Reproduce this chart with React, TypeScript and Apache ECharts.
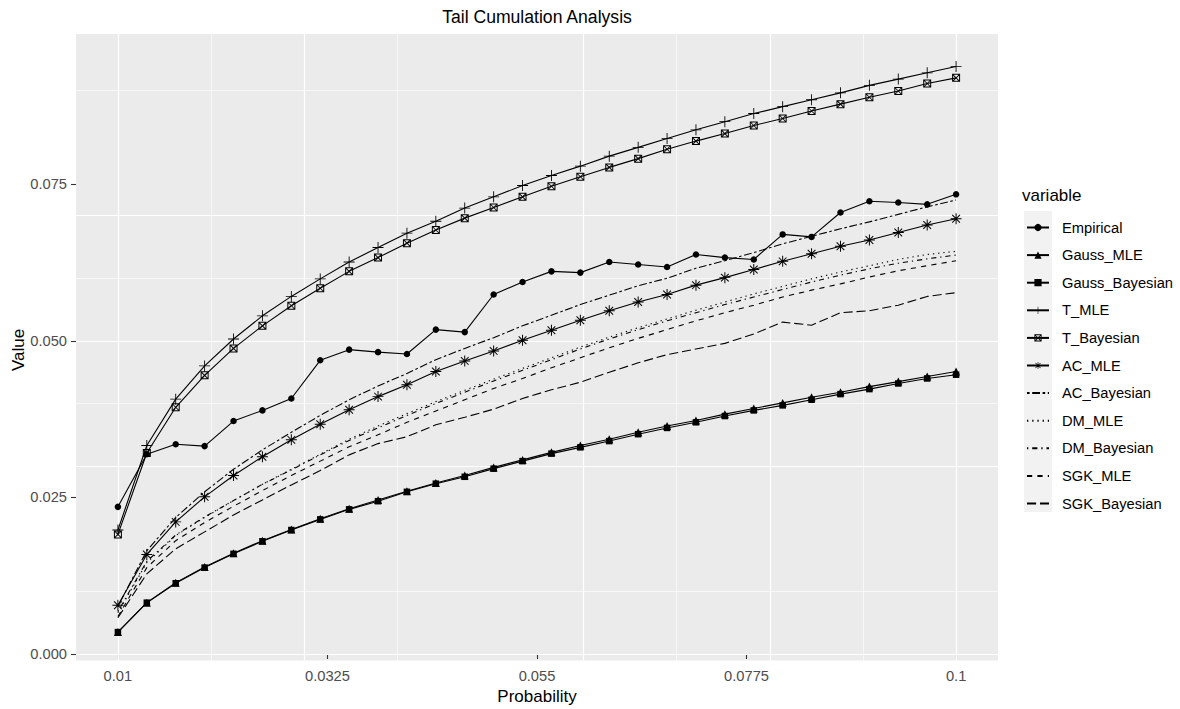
import React, { useEffect, useRef } from "react";
import * as echarts from "echarts";

const probability = [
  0.01, 0.013103, 0.016207, 0.01931, 0.022414, 0.025517, 0.028621, 0.031724, 0.034828, 0.037931,
  0.041034, 0.044138, 0.047241, 0.050345, 0.053448, 0.056552, 0.059655, 0.062759, 0.065862, 0.068966,
  0.072069, 0.075172, 0.078276, 0.081379, 0.084483, 0.087586, 0.09069, 0.093793, 0.096897, 0.1,
];

const empirical = [
  0.0235, 0.0319, 0.0335, 0.0332, 0.0372, 0.0389, 0.0408, 0.0469, 0.0486, 0.0482,
  0.0479, 0.0518, 0.0514, 0.0574, 0.0594, 0.0611, 0.0609, 0.0626, 0.0622, 0.0618,
  0.0638, 0.0633, 0.063, 0.067, 0.0666, 0.0705, 0.0723, 0.0721, 0.0718, 0.0734,
];
const gaussMLE = [
  0.0035, 0.0082, 0.0114, 0.0139, 0.0161, 0.0181, 0.0199, 0.0216, 0.0232, 0.0246,
  0.026, 0.0273, 0.0285, 0.0298, 0.031, 0.0322, 0.0333, 0.0343, 0.0354, 0.0364,
  0.0373, 0.0383, 0.0392, 0.0401, 0.041, 0.0418, 0.0427, 0.0435, 0.0443, 0.0451,
];
const gaussBayesian = [
  0.0035, 0.0082, 0.0113, 0.0138, 0.016, 0.018, 0.0198, 0.0215, 0.0231, 0.0244,
  0.0259, 0.0272, 0.0283, 0.0296, 0.0308, 0.032, 0.033, 0.034, 0.0351, 0.0361,
  0.037, 0.038, 0.0389, 0.0397, 0.0406, 0.0415, 0.0423, 0.0432, 0.044, 0.0446,
];
const tMLE = [
  0.0198, 0.0333, 0.0407, 0.046, 0.0503, 0.054, 0.0571, 0.0599, 0.0626, 0.0649,
  0.0672, 0.0691, 0.0712, 0.073, 0.0748, 0.0764, 0.0779, 0.0795, 0.0809, 0.0823,
  0.0837, 0.085, 0.0863, 0.0874, 0.0885, 0.0896, 0.0908, 0.0918, 0.0928, 0.0938,
];
const tBayesian = [
  0.0191, 0.0321, 0.0394, 0.0445, 0.0488, 0.0524, 0.0556, 0.0584, 0.0611, 0.0633,
  0.0656, 0.0677, 0.0696, 0.0713, 0.073, 0.0747, 0.0762, 0.0777, 0.0791, 0.0806,
  0.0819, 0.0831, 0.0844, 0.0855, 0.0867, 0.0878, 0.0889, 0.0899, 0.0911, 0.092,
];
const acMLE = [
  0.0078, 0.0159, 0.0211, 0.0251, 0.0285, 0.0315, 0.0342, 0.0367, 0.039, 0.0411,
  0.043, 0.0451, 0.0468, 0.0484, 0.0501, 0.0517, 0.0533, 0.0548, 0.0562, 0.0574,
  0.0589, 0.0601, 0.0614, 0.0627, 0.0639, 0.0651, 0.0661, 0.0673, 0.0685, 0.0695,
];
const acBayesian = [
  0.0076, 0.0165, 0.0218, 0.0259, 0.0295, 0.0326, 0.0354, 0.0381, 0.0406, 0.0428,
  0.0448, 0.047, 0.0488, 0.0505, 0.0524, 0.0541, 0.0558, 0.0573, 0.0588, 0.06,
  0.0616, 0.0628, 0.0641, 0.0655, 0.0667, 0.0679, 0.069, 0.0702, 0.0714, 0.0725,
];
const dmMLE = [
  0.0066, 0.0146, 0.0189, 0.0218, 0.0245, 0.0271, 0.0295, 0.0319, 0.0343, 0.0364,
  0.0384, 0.0403, 0.0421, 0.0439, 0.0456, 0.0473, 0.049, 0.0506, 0.0521, 0.0535,
  0.0549, 0.0562, 0.0575, 0.0587, 0.0599, 0.061, 0.062, 0.063, 0.0638, 0.0643,
];
const dmBayesian = [
  0.0068, 0.0148, 0.019, 0.0219, 0.0245, 0.0271, 0.0294, 0.0318, 0.0341, 0.0361,
  0.0381, 0.04, 0.0418, 0.0436, 0.0453, 0.047, 0.0487, 0.0503, 0.0518, 0.0532,
  0.0545, 0.0558, 0.057, 0.0582, 0.0594, 0.0605, 0.0615, 0.0624, 0.0631, 0.0637,
];
const sgkMLE = [
  0.006, 0.0138, 0.0181, 0.021, 0.0236, 0.0261, 0.0285, 0.0308, 0.0331, 0.035,
  0.037, 0.0388, 0.0406, 0.0424, 0.044, 0.0457, 0.0473, 0.0489, 0.0504, 0.0518,
  0.0532, 0.0545, 0.0557, 0.057, 0.0581, 0.0591, 0.0602, 0.0612, 0.062, 0.0628,
];
const sgkBayesian = [
  0.0058, 0.0128, 0.0168, 0.0195, 0.0222, 0.0246, 0.027, 0.0293, 0.0318, 0.0336,
  0.0347, 0.0366, 0.0378, 0.0391, 0.0408, 0.0422, 0.0434, 0.045, 0.0465, 0.0478,
  0.0487, 0.0496, 0.0511, 0.053, 0.0525, 0.0545, 0.0548, 0.0557, 0.0571, 0.0577,
];

const seriesNames = [
  "Empirical", "Gauss_MLE", "Gauss_Bayesian", "T_MLE", "T_Bayesian", "AC_MLE",
  "AC_Bayesian", "DM_MLE", "DM_Bayesian", "SGK_MLE", "SGK_Bayesian",
];

const xTickValues = [0.01, 0.0325, 0.055, 0.0775, 0.1];
const xTickLabels = ["0.01", "0.0325", "0.055", "0.0775", "0.1"];
const xMinorValues = [0.02125, 0.04375, 0.06625, 0.08875];
const yTickValues = [0, 0.025, 0.05, 0.075];
const yTickLabels = ["0.000", "0.025", "0.050", "0.075"];
const yMinorValues = [0.0125, 0.0375, 0.0625, 0.0875];

const FONT = "'Liberation Sans', Arial, Helvetica, sans-serif";

const PLUS =
  "path://M-0.8,-10 L0.8,-10 L0.8,-0.8 L10,-0.8 L10,0.8 L0.8,0.8 L0.8,10 L-0.8,10 L-0.8,0.8 L-10,0.8 L-10,-0.8 L-0.8,-0.8 Z";
const SQUARE_CROSS =
  "path://M-10,-10 L10,-10 L10,10 L-10,10 Z M-7.5,-7.5 L-7.5,7.5 L7.5,7.5 L7.5,-7.5 Z " +
  "M-6.72,-8.28 L8.28,6.72 L6.72,8.28 L-8.28,-6.72 Z M8.28,-6.72 L-6.72,8.28 L-8.28,6.72 L6.72,-8.28 Z";
const ASTERISK =
  "path://M-0.9,-10 L0.9,-10 L0.9,-0.9 L10,-0.9 L10,0.9 L0.9,0.9 L0.9,10 L-0.9,10 L-0.9,0.9 L-10,0.9 L-10,-0.9 L-0.9,-0.9 Z " +
  "M-6.36,-7.64 L7.64,6.36 L6.36,7.64 L-7.64,-6.36 Z M7.64,-6.36 L-6.36,7.64 L-7.64,6.36 L6.36,-7.64 Z";

function pickLabel(v: number, values: number[], labels: string[]) {
  let best = 0;
  for (let i = 1; i < values.length; i++) {
    if (Math.abs(values[i] - v) < Math.abs(values[best] - v)) best = i;
  }
  return labels[best];
}

export default function App() {
  const ref = useRef<HTMLDivElement>(null);

  useEffect(() => {
    if (!ref.current) return;
    const chart = echarts.init(ref.current, undefined, { renderer: "svg" });

    const valuesList = [
      empirical, gaussMLE, gaussBayesian, tMLE, tBayesian, acMLE,
      acBayesian, dmMLE, dmBayesian, sgkMLE, sgkBayesian,
    ];
    const symbols: any[] = ["circle", "triangle", "rect", PLUS, SQUARE_CROSS, ASTERISK, "none", "none", "none", "none", "none"];
    const symbolSizes = [6.5, 8, 6.5, 11, 8, 11, 0, 0, 0, 0, 0];
    const dashes: any[] = [
      "solid", "solid", "solid", "solid", "solid", "solid",
      [2.6, 2.6, 7.8, 2.6],
      [1.3, 3.9],
      [1.3, 3.9, 5.2, 3.9],
      [5.2, 5.2],
      [9.1, 3.9],
    ];

    const dataSeries = seriesNames.map((name, k) => {
      const vals = valuesList[k];
      const hasSym = symbols[k] !== "none";
      return {
        name,
        type: "line",
        data: probability.map((p, i) => [p, vals[i]]),
        symbol: symbols[k],
        symbolSize: symbolSizes[k],
        showSymbol: hasSym,
        lineStyle: { color: "#000000", width: 1.1, type: dashes[k], cap: "butt" },
        itemStyle: { color: "#000000", borderWidth: 0 },
        z: 3,
        silent: true,
        animation: false,
        emphasis: { disabled: true },
      };
    });

    const legendData = seriesNames.map((name, k) =>
      symbols[k] === "none"
        ? { name, itemStyle: { opacity: 0, color: "rgba(0,0,0,0)" } }
        : { name }
    );

    const gridLines: any[] = [
      ...xTickValues.map((v) => ({ xAxis: v, lineStyle: { width: 1.2 } })),
      ...xMinorValues.map((v) => ({ xAxis: v, lineStyle: { width: 0.6 } })),
      ...yTickValues.map((v) => ({ yAxis: v, lineStyle: { width: 1.2 } })),
      ...yMinorValues.map((v) => ({ yAxis: v, lineStyle: { width: 0.6 } })),
    ];

    const gridSeries = {
      name: "__grid",
      type: "line",
      data: [[0.01, 0]],
      symbol: "none",
      showSymbol: false,
      lineStyle: { opacity: 0 },
      silent: true,
      z: 1,
      animation: false,
      markLine: {
        silent: true,
        z: 1,
        symbol: ["none", "none"],
        label: { show: false },
        emphasis: { disabled: true },
        animation: false,
        lineStyle: { color: "#ffffff", type: "solid", width: 1.2 },
        data: gridLines,
      },
    };

    chart.setOption({
      animation: false,
      backgroundColor: "#ffffff",
      textStyle: { fontFamily: FONT },
      grid: {
        left: 76,
        right: 182,
        top: 34,
        bottom: 48.4,
        show: true,
        backgroundColor: "#EBEBEB",
        borderWidth: 0,
        containLabel: false,
      },
      xAxis: {
        type: "value",
        min: 0.0055,
        max: 0.1045,
        axisLine: { show: false },
        splitLine: { show: false },
        axisTick: {
          show: true,
          customValues: xTickValues,
          length: 5,
          lineStyle: { color: "#333333", width: 1.1 },
        },
        axisLabel: {
          show: true,
          customValues: xTickValues,
          margin: 8,
          fontSize: 14.7,
          color: "#4D4D4D",
          fontFamily: FONT,
          formatter: (v: number) => pickLabel(v, xTickValues, xTickLabels),
        },
      },
      yAxis: {
        type: "value",
        min: -0.00105,
        max: 0.099,
        axisLine: { show: false },
        splitLine: { show: false },
        axisTick: {
          show: true,
          customValues: yTickValues,
          length: 5,
          lineStyle: { color: "#333333", width: 1.1 },
        },
        axisLabel: {
          show: true,
          customValues: yTickValues,
          margin: 9,
          fontSize: 14.7,
          color: "#4D4D4D",
          fontFamily: FONT,
          formatter: (v: number) => pickLabel(v, yTickValues, yTickLabels),
        },
      },
      legend: {
        orient: "vertical",
        left: 1026,
        top: 220,
        itemWidth: 22,
        itemHeight: 9,
        itemGap: 12.6,
        padding: 0,
        selectedMode: false,
        data: legendData,
        z: 5,
        textStyle: {
          fontSize: 14.7,
          color: "#000000",
          fontFamily: FONT,
          lineHeight: 14,
          padding: [0, 0, 0, 8],
        },
      },
      graphic: [
        {
          type: "rect",
          z: 0,
          silent: true,
          shape: { x: 1024, y: 211, width: 28, height: 301 },
          style: { fill: "#F2F2F2" },
        },
        {
          type: "text",
          z: 5,
          silent: true,
          x: 537,
          y: 17,
          style: {
            text: "Tail Cumulation Analysis",
            fontSize: 17.6,
            fontFamily: FONT,
            fill: "#000000",
            align: "center",
            verticalAlign: "middle",
            textAlign: "center",
            textVerticalAlign: "middle",
          },
        },
        {
          type: "text",
          z: 5,
          silent: true,
          x: 537,
          y: 696,
          style: {
            text: "Probability",
            fontSize: 17,
            fontFamily: FONT,
            fill: "#000000",
            align: "center",
            verticalAlign: "middle",
            textAlign: "center",
            textVerticalAlign: "middle",
          },
        },
        {
          type: "text",
          z: 5,
          silent: true,
          x: 18,
          y: 350,
          rotation: Math.PI / 2,
          style: {
            text: "Value",
            fontSize: 17,
            fontFamily: FONT,
            fill: "#000000",
            align: "center",
            verticalAlign: "middle",
            textAlign: "center",
            textVerticalAlign: "middle",
          },
        },
        {
          type: "text",
          z: 5,
          silent: true,
          x: 1022,
          y: 195,
          style: {
            text: "variable",
            fontSize: 17,
            fontFamily: FONT,
            fill: "#000000",
            align: "left",
            verticalAlign: "middle",
            textAlign: "left",
            textVerticalAlign: "middle",
          },
        },
      ],
      series: [gridSeries, ...dataSeries],
    });

    return () => {
      chart.dispose();
    };
  }, []);

  return (
    <div
      ref={ref}
      style={{ position: "absolute", left: 0, top: 0, width: 1180, height: 709 }}
    />
  );
}
